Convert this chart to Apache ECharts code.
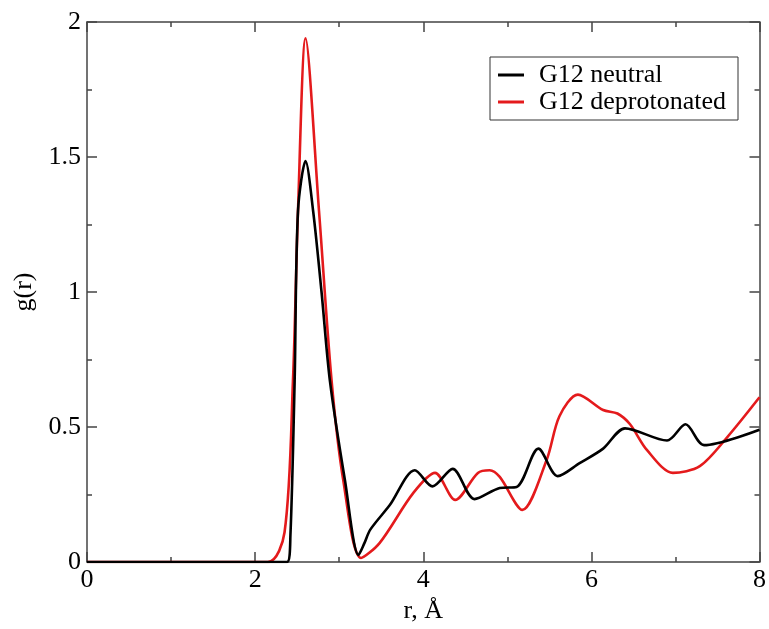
<!DOCTYPE html>
<html><head><meta charset="utf-8">
<script src="https://cdn.jsdelivr.net/npm/echarts@6/dist/echarts.min.js"></script>
<style>html,body{margin:0;padding:0;background:#fff}#c{width:769px;height:629px}</style>
</head><body><div id="c"></div>
<script>
const neutralR = [0, 2.38, 2.42, 2.47, 2.51, 2.60, 2.69, 2.79, 2.89, 3.07, 3.23, 3.30, 3.37, 3.6, 3.90, 4.11, 4.35, 4.61, 4.91, 5.11, 5.37, 5.60, 5.86, 6.14, 6.40, 6.90, 7.12, 7.34, 8];
const neutralG = [0, 0, 0.10, 0.67, 1.30, 1.485, 1.30, 1.0, 0.67, 0.30, 0.026, 0.07, 0.12, 0.21, 0.34, 0.28, 0.345, 0.233, 0.274, 0.278, 0.42, 0.318, 0.366, 0.42, 0.495, 0.45, 0.51, 0.433, 0.49];
const deprotR = [0, 2.15, 2.35, 2.45, 2.51, 2.60, 2.76, 2.91, 3.05, 3.26, 3.48, 3.88, 4.14, 4.38, 4.65, 4.79, 4.91, 5.18, 5.47, 5.62, 5.84, 6.14, 6.31, 6.46, 6.66, 6.97, 7.29, 7.61, 8];
const deprotG = [0, 0, 0.11, 0.67, 1.30, 1.94, 1.30, 0.67, 0.30, 0.015, 0.07, 0.255, 0.33, 0.23, 0.33, 0.34, 0.315, 0.193, 0.38, 0.54, 0.62, 0.563, 0.55, 0.51, 0.415, 0.33, 0.355, 0.46, 0.61];
const seriesNames = ['G12 neutral', 'G12 deprotonated'];
const xTicks = [0, 2, 4, 6, 8];
const yTicks = [0, 0.5, 1, 1.5, 2];

const zip = (a, b) => a.map((v, i) => [v, b[i]]);
const font = 'Liberation Serif';
const axisCol = '#444';
const chart = echarts.init(document.getElementById('c'));
const mkX = (pos, labels) => ({
  type: 'value', min: 0, max: 8, interval: 2, position: pos,
  axisLine: {show: true, onZero: false, lineStyle: {color: axisCol, width: 1.5}},
  axisTick: {show: true, inside: true, length: 10, lineStyle: {color: axisCol, width: 1.5}},
  minorTick: {show: true, splitNumber: 2, length: 5, lineStyle: {color: axisCol, width: 1.5}},
  splitLine: {show: false},
  axisLabel: {show: labels, color: '#000', fontFamily: font, fontSize: 26, margin: 5,
    formatter: v => xTicks.includes(v) ? String(v) : ''},
  name: labels ? 'r, Å' : '', nameLocation: 'middle', nameGap: 36,
  nameTextStyle: {color: '#000', fontFamily: font, fontSize: 26}
});
const mkY = (pos, labels) => ({
  type: 'value', min: 0, max: 2, interval: 0.5, position: pos,
  axisLine: {show: true, onZero: false, lineStyle: {color: axisCol, width: 1.5}},
  axisTick: {show: true, inside: true, length: 10, lineStyle: {color: axisCol, width: 1.5}},
  minorTick: {show: true, splitNumber: 2, length: 5, lineStyle: {color: axisCol, width: 1.5}},
  splitLine: {show: false},
  axisLabel: {show: labels, color: '#000', fontFamily: font, fontSize: 26, margin: 6,
    formatter: v => yTicks.includes(v) ? String(v) : ''},
  name: labels ? 'g(r)' : '', nameLocation: 'middle', nameGap: 45,
  nameTextStyle: {color: '#000', fontFamily: font, fontSize: 26}
});
chart.setOption({
  animation: false,
  backgroundColor: '#fff',
  grid: {left: 87, right: 9, top: 22, bottom: 67},
  xAxis: [mkX('bottom', true), mkX('top', false)],
  yAxis: [mkY('left', true), mkY('right', false)],
  legend: {
    data: seriesNames, orient: 'vertical', left: 490, top: 57,
    borderColor: '#333', borderWidth: 1, borderRadius: 0,
    padding: [5, 12, 5, 8], itemGap: 1, itemWidth: 26, itemHeight: 3, icon: 'rect',
    textStyle: {fontFamily: font, fontSize: 26, color: '#000', padding: [0, 0, 0, 10]}
  },
  series: [
    {name: seriesNames[0], type: 'line', data: zip(neutralR, neutralG), showSymbol: false, smooth: 0.3,
     lineStyle: {color: '#000', width: 2.6}, itemStyle: {color: '#000'}, z: 3},
    {name: seriesNames[1], type: 'line', data: zip(deprotR, deprotG), showSymbol: false, smooth: 0.3,
     lineStyle: {color: '#e41a1c', width: 2.6}, itemStyle: {color: '#e41a1c'}, z: 2}
  ]
});
</script></body></html>
